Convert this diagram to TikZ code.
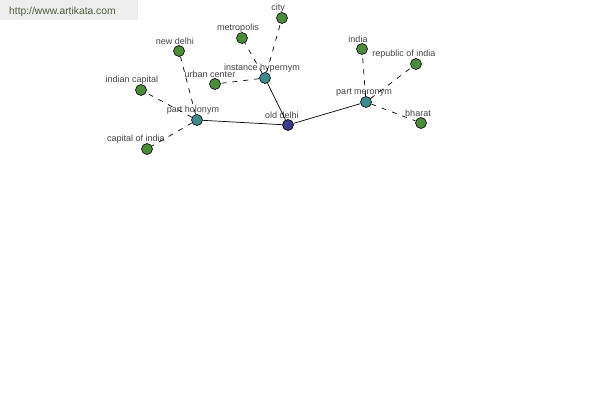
\documentclass[tikz,border=0pt]{standalone}
\usepackage{fontspec}
\setmainfont{Liberation Sans}
\definecolor{headblue}{HTML}{3C3C8C}
\definecolor{reltcol}{HTML}{3C8C8C}
\definecolor{leafcol}{HTML}{4A8C3C}
\definecolor{lblgray}{HTML}{444444}
\definecolor{markgray}{HTML}{EEEEEE}
\definecolor{marktext}{HTML}{4F5A3A}

\begin{document}
\begin{tikzpicture}[x=1pt,y=-1pt,
  dot/.style={circle,draw=black,line width=0.6pt,minimum size=11pt,inner sep=0pt},
  head/.style={dot,fill=headblue},
  rel/.style={dot,fill=reltcol},
  leaf/.style={dot,fill=leafcol},
  lbl/.style={font=\fontsize{9}{10}\selectfont,text=lblgray,inner sep=1pt},
  every label/.style={lbl},
  label distance=-1pt,
  solidedge/.style={line width=0.7pt},
  dashedge/.style={line width=0.7pt,dash pattern=on 5pt off 6pt}]
\useasboundingbox (0,0) rectangle (600,400);
\fill[markgray] (0,0) rectangle (138,20);
\node[font=\fontsize{10.3}{11}\selectfont,text=marktext,anchor=west,inner sep=0pt] (mark) at (9,11.5) {http://www.artikata.com};

\node[head,label={[xshift=-6pt]above:old delhi}] (olddelhi) at (288,125) {};

\node[rel,label={[xshift=-4pt]above:part holonym}] (holonym) at (197,120) {};
\node[rel,label={[xshift=-3pt]above:instance hypernym}] (hypernym) at (265,78) {};
\node[rel,label={[xshift=-2pt]above:part meronym}] (meronym) at (366,102) {};

\node[leaf,label={[xshift=-4pt]above:new delhi}] (newdelhi) at (179,51) {};
\node[leaf,label={[xshift=-9pt]above:indian capital}] (indcap) at (141,90) {};
\node[leaf,label={[xshift=-11pt]above:capital of india}] (capindia) at (147,149) {};
\node[leaf,label={[xshift=-5pt]above:urban center}] (urban) at (215,84) {};
\node[leaf,label={[xshift=-4pt]above:metropolis}] (metro) at (242,38) {};
\node[leaf,label={[xshift=-4pt]above:city}] (city) at (282,18) {};
\node[leaf,label={[xshift=-4pt]above:india}] (india) at (362,49) {};
\node[leaf,label={[xshift=-12pt]above:republic of india}] (republic) at (416,64) {};
\node[leaf,label={[xshift=-3pt]above:bharat}] (bharat) at (421,123) {};

\draw[solidedge] (olddelhi) -- (holonym);
\draw[solidedge] (olddelhi) -- (hypernym);
\draw[solidedge] (olddelhi) -- (meronym);

\draw[dashedge] (holonym) -- (newdelhi);
\draw[dashedge] (holonym) -- (indcap);
\draw[dashedge] (holonym) -- (capindia);
\draw[dashedge] (hypernym) -- (urban);
\draw[dashedge] (hypernym) -- (metro);
\draw[dashedge] (hypernym) -- (city);
\draw[dashedge] (meronym) -- (india);
\draw[dashedge] (meronym) -- (republic);
\draw[dashedge] (meronym) -- (bharat);
\end{tikzpicture}
\end{document}
